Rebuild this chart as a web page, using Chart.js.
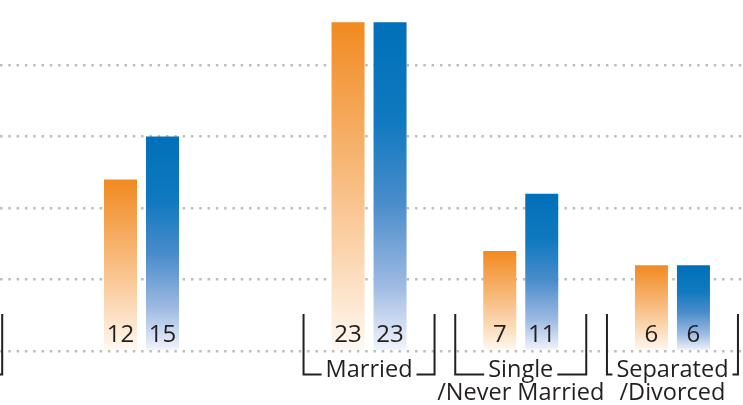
<!DOCTYPE html>
<html>
<head>
<meta charset="utf-8">
<script src="https://cdn.jsdelivr.net/npm/chart.js@4/dist/chart.umd.min.js"></script>
<style>
  html, body { margin: 0; padding: 0; background: #fff; }
  #wrap { width: 743px; height: 405px; }
</style>
</head>
<body>
<div id="wrap"><canvas id="chart"></canvas></div>
<script>
// Groups (first one sits off the left edge, only its bracket end shows)
const categories = ['', '', 'Married', 'Single\n/Never Married', 'Separated\n/Divorced'];
const groupPos = [-1.35, 0, 1.5, 2.5, 3.5];
const bracketed = [true, false, true, true, true];
const orangeValues = [null, 12, 23, 7, 6];
const blueValues = [null, 15, 23, 11, 6];
const gridTicks = [0, 5, 10, 15, 20];

const FONT = '"Open Sans", Lato, sans-serif';
const TEXT = '#231F20';

// vertical fade for each bar: strong at the top, almost white at the base
function barGradient(stops) {
    return (c) => {
        const chart = c.chart;
        const y = chart.scales.y;
        if (!y || c.parsed == null || c.parsed.y == null) return stops[0][1];
        const top = y.getPixelForValue(c.parsed.y);
        const bottom = y.getPixelForValue(0);
        const g = chart.ctx.createLinearGradient(0, top, 0, bottom);
        stops.forEach(s => g.addColorStop(s[0], s[1]));
        return g;
    };
}

const orangeStops = [[0, '#F18A20'], [0.5, '#F8BE83'], [0.85, '#FDE6CF'], [1, '#FFF9F3']];
const blueStops = [[0, '#0070BA'], [0.3, '#1079BF'], [0.55, '#4A8CCB'], [0.8, '#9DBAE2'], [1, '#F2F5FC']];

// value numbers at the foot of each bar + bracketed group labels below the plot
const labelPlugin = {
    id: 'labels',
    afterDatasetsDraw(chart) {
        const ctx = chart.ctx;
        const y0 = chart.scales.y.getPixelForValue(0);
        ctx.save();
        ctx.font = '24px ' + FONT;
        ctx.fillStyle = TEXT;
        ctx.textAlign = 'center';
        ctx.textBaseline = 'alphabetic';
        chart.data.datasets.forEach((ds, di) => {
            chart.getDatasetMeta(di).data.forEach((bar, i) => {
                if (ds.data[i].y == null) return;
                ctx.fillText(String(ds.data[i].y), bar.x, y0 - 9);
            });
        });
        ctx.restore();
    },
    afterDraw(chart) {
        const ctx = chart.ctx;
        const x = chart.scales.x;
        const half = 65.5;
        const topY = 314, lineY = 374.5;
        ctx.save();
        ctx.strokeStyle = TEXT;
        ctx.lineWidth = 2;
        ctx.font = '23.5px ' + FONT;
        ctx.fillStyle = TEXT;
        ctx.textAlign = 'center';
        ctx.textBaseline = 'alphabetic';
        categories.forEach((label, i) => {
            if (!bracketed[i]) return;
            const cx = x.getPixelForValue(groupPos[i]);
            const lines = label.split('\n');
            const tw = lines[0] ? ctx.measureText(lines[0]).width : 0;
            const gapL = tw ? cx - tw / 2 - 4 : cx;
            const gapR = tw ? cx + tw / 2 + 4 : cx;
            ctx.beginPath();
            ctx.moveTo(cx - half, topY);
            ctx.lineTo(cx - half, lineY);
            ctx.lineTo(gapL, lineY);
            ctx.moveTo(gapR, lineY);
            ctx.lineTo(cx + half, lineY);
            ctx.lineTo(cx + half, topY);
            ctx.stroke();
            lines.forEach((t, k) => ctx.fillText(t, cx, 377 + k * 23));
        });
        ctx.restore();
    }
};

new Chart(document.getElementById('chart'), {
    type: 'bar',
    data: {
        datasets: [
            {
                label: 'Orange',
                data: groupPos.map((p, i) => ({ x: p, y: orangeValues[i] })),
                backgroundColor: barGradient(orangeStops)
            },
            {
                label: 'Blue',
                data: groupPos.map((p, i) => ({ x: p, y: blueValues[i] })),
                backgroundColor: barGradient(blueStops)
            }
        ]
    },
    options: {
        responsive: true,
        maintainAspectRatio: false,
        animation: false,
        categoryPercentage: 84 / 151.7,
        barPercentage: 33 / 42,
        layout: { padding: { left: 0, right: 0, top: 0, bottom: 54 } },
        plugins: {
            legend: { display: false },
            tooltip: { enabled: false }
        },
        scales: {
            x: {
                type: 'linear',
                display: false,
                min: -141.5 / 151.7,
                max: (743 - 141.5) / 151.7,
                afterBuildTicks: (s) => { s.ticks = []; }
            },
            y: {
                min: 0,
                max: 24.55,
                z: 1,
                afterBuildTicks: (s) => { s.ticks = gridTicks.map(v => ({ value: v })); },
                ticks: { display: false },
                border: { display: false, dash: [2.5, 5.8] },
                grid: { color: 'rgba(0,0,0,0.26)', lineWidth: 2.5, drawTicks: false }
            }
        }
    },
    plugins: [labelPlugin]
});
</script>
</body>
</html>
